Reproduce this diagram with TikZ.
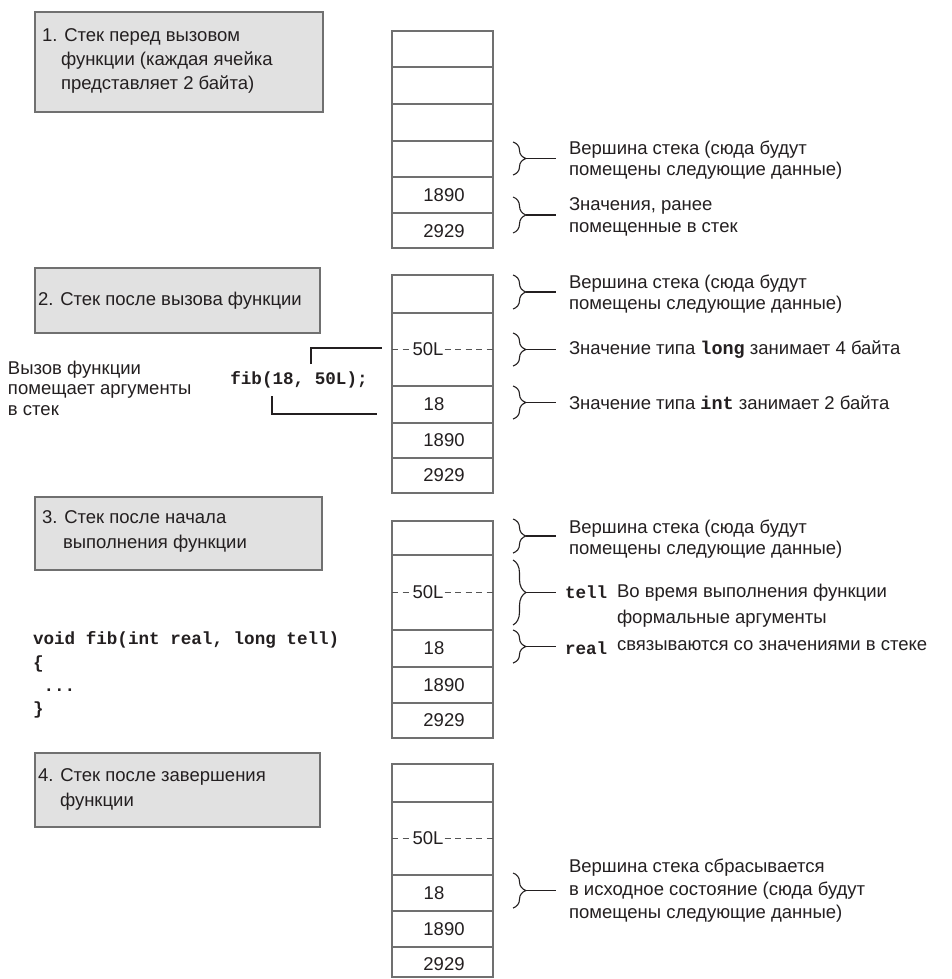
\documentclass[tikz,border=0pt]{standalone}
\usepackage{fontspec}
\setmainfont{Liberation Sans}
\setmonofont{Liberation Mono}
\usetikzlibrary{decorations.pathreplacing}
\definecolor{ink}{HTML}{231F20}
\definecolor{cellgray}{HTML}{707070}
\definecolor{dashgray}{HTML}{555555}
\definecolor{boxfill}{HTML}{E1E1E1}
\tikzset{
  every node/.style={inner sep=0pt, outer sep=0pt, text=ink, font=\fontsize{18.5}{21.5}\selectfont},
  cell/.style={rectangle, draw=cellgray, line width=2.4pt, minimum width=101pt, anchor=north west},
  graybox/.style={rectangle, draw=cellgray, fill=boxfill, line width=2pt, anchor=north west},
  lbl/.style={anchor=west, align=left},
  num/.style={},
  code/.style={font=\fontsize{17.6}{23.3}\selectfont\ttfamily\bfseries, anchor=west, align=left},
  brc/.style={draw=ink, line width=1.1pt, decorate, decoration={brace, amplitude=13pt, aspect=0.5}},
  lead/.style={draw=ink, line width=1.1pt},
  conn/.style={draw=ink, line width=1.1pt},
  dash50/.style={draw=dashgray, line width=1.5pt, dash pattern=on 6pt off 4.5pt},
  mask/.style={fill=white, inner xsep=0.3pt, inner ysep=1pt}
}
\begin{document}
\begin{tikzpicture}[x=1pt, y=-1pt]
\useasboundingbox[fill=white] (0,0) rectangle (951,979);

% ---------- Section 1 ----------
\node[graybox, minimum width=288pt, minimum height=100pt] (b1) at (35,12) {};
\node[lbl, font=\fontsize{18.5}{24}\selectfont] (t1) at (42,61) {1. Стек перед вызовом\\\hspace*{19pt}функции (каждая ячейка\\\hspace*{19pt}представляет 2 байта)};

\node[cell, minimum height=36pt] (s1c1) at (392,31) {};
\node[cell, minimum height=37pt] (s1c2) at (392,67) {};
\node[cell, minimum height=37pt] (s1c3) at (392,104) {};
\node[cell, minimum height=36pt] (s1c4) at (392,141) {};
\node[cell, minimum height=36pt] (s1c5) at (392,177) {};
\node[cell, minimum height=35pt] (s1c6) at (392,213) {};
\node[num] (n1a) at (444,195) {1890};
\node[num] (n1b) at (444,231) {2929};

\coordinate (ba1) at (513,142); \coordinate (ba2) at (513,175); \coordinate (bat) at (526,158.5);
\draw[brc] (ba1) -- (ba2);
\node[lbl] (ta) at (569,160) {Вершина стека (сюда будут\\помещены следующие данные)};
\draw[lead, shorten >=13pt] (bat) -- (ta.west |- bat);
\coordinate (bb1) at (513,197); \coordinate (bb2) at (513,233); \coordinate (bbt) at (526,215);
\draw[brc] (bb1) -- (bb2);
\node[lbl] (tb) at (569,217) {Значения, ранее\\помещенные в стек};
\draw[lead, shorten >=13pt] (bbt) -- (tb.west |- bbt);

% ---------- Section 2 ----------
\node[graybox, minimum width=285pt, minimum height=65pt] (b2) at (35,268) {};
\node[lbl] (t2) at (38,301) {2. Стек после вызова функции};

\node[cell, minimum height=38pt] (s2c1) at (392,275) {};
\node[cell, minimum height=73pt] (s2c2) at (392,313) {};
\node[cell, minimum height=37pt] (s2c3) at (392,386) {};
\node[cell, minimum height=35pt] (s2c4) at (392,423) {};
\node[cell, minimum height=35pt] (s2c5) at (392,458) {};
\draw[dash50] (s2c2.west) -- (s2c2.east);
\node[num, mask] (d2) at (428,349.5) {50L};
\node[num] (n2a) at (434,404.5) {18};
\node[num] (n2b) at (444,440.5) {1890};
\node[num] (n2c) at (444,475.5) {2929};

\coordinate (bc1) at (513,275); \coordinate (bc2) at (513,309); \coordinate (bct) at (526,292);
\draw[brc] (bc1) -- (bc2);
\node[lbl] (tc) at (569,294) {Вершина стека (сюда будут\\помещены следующие данные)};
\draw[lead, shorten >=13pt] (bct) -- (tc.west |- bct);
\coordinate (bd1) at (513,333); \coordinate (bd2) at (513,366); \coordinate (bdt) at (526,349.5);
\draw[brc] (bd1) -- (bd2);
\node[lbl] (td) at (569,350) {Значение типа {\ttfamily\bfseries long} занимает 4 байта};
\draw[lead, shorten >=13pt] (bdt) -- (td.west |- bdt);
\coordinate (be1) at (513,386); \coordinate (be2) at (513,419); \coordinate (bet) at (526,402.5);
\draw[brc] (be1) -- (be2);
\node[lbl] (te) at (569,403) {Значение типа {\ttfamily\bfseries int} занимает 2 байта};
\draw[lead, shorten >=13pt] (bet) -- (te.west |- bet);

\node[lbl, font=\fontsize{18.5}{20.5}\selectfont] (tl2) at (8,388) {Вызов функции\\помещает аргументы\\в стек};
\node[code, anchor=center] (f2) at (299,380) {fib(18, 50L);};
\coordinate (u0) at (311,364); \coordinate (u1) at (311,348); \coordinate (u2) at (382,348);
\draw[conn] (u0) -- (u1) -- (u2);
\coordinate (l0) at (272,396); \coordinate (l1) at (272,414); \coordinate (l2) at (377,414);
\draw[conn] (l0) -- (l1) -- (l2);

% ---------- Section 3 ----------
\node[graybox, minimum width=287pt, minimum height=73pt] (b3) at (35,497) {};
\node[lbl, font=\fontsize{18.5}{25}\selectfont] (t3) at (42,531) {3. Стек после начала\\\hspace*{21pt}выполнения функции};

\node[cell, minimum height=34pt] (s3c1) at (392,521) {};
\node[cell, minimum height=75pt] (s3c2) at (392,555) {};
\node[cell, minimum height=37pt] (s3c3) at (392,630) {};
\node[cell, minimum height=36pt] (s3c4) at (392,667) {};
\node[cell, minimum height=35pt] (s3c5) at (392,703) {};
\draw[dash50] (s3c2.west) -- (s3c2.east);
\node[num, mask] (d3) at (428,592.5) {50L};
\node[num] (n3a) at (434,648.5) {18};
\node[num] (n3b) at (444,685) {1890};
\node[num] (n3c) at (444,720.5) {2929};

\node[code] (code3) at (33,675) {void fib(int real, long tell)\\\{\\\hspace*{10.56pt}...\\\}};

\coordinate (bf1) at (513,519); \coordinate (bf2) at (513,553); \coordinate (bft) at (526,536);
\draw[brc] (bf1) -- (bf2);
\node[lbl] (tf) at (569,539) {Вершина стека (сюда будут\\помещены следующие данные)};
\draw[lead, shorten >=13pt] (bft) -- (tf.west |- bft);
\coordinate (bg1) at (513,560); \coordinate (bg2) at (513,625); \coordinate (bgt) at (526,592.5);
\draw[brc] (bg1) -- (bg2);
\node[code] (tell) at (565,592) {tell};
\draw[lead, shorten >=9pt] (bgt) -- (tell.west |- bgt);
\coordinate (bh1) at (513,630); \coordinate (bh2) at (513,663); \coordinate (bht) at (526,646.5);
\draw[brc] (bh1) -- (bh2);
\node[code] (real) at (565,648) {real};
\draw[lead, shorten >=9pt] (bht) -- (real.west |- bht);
\node[lbl, font=\fontsize{18.5}{26.5}\selectfont] (tg) at (617,617) {Во время выполнения функции\\формальные аргументы\\связываются со значениями в стеке};

% ---------- Section 4 ----------
\node[graybox, minimum width=285pt, minimum height=74pt] (b4) at (35,753) {};
\node[lbl, font=\fontsize{18.5}{25}\selectfont] (t4) at (38,789.5) {4. Стек после завершения\\\hspace*{22pt}функции};

\node[cell, minimum height=38pt] (s4c1) at (392,764) {};
\node[cell, minimum height=73pt] (s4c2) at (392,802) {};
\node[cell, minimum height=36pt] (s4c3) at (392,875) {};
\node[cell, minimum height=36pt] (s4c4) at (392,911) {};
\node[cell, minimum height=30pt] (s4c5) at (392,947) {};
\draw[dash50] (s4c2.west) -- (s4c2.east);
\node[num, mask] (d4) at (428,838.5) {50L};
\node[num] (n4a) at (434,893) {18};
\node[num] (n4b) at (444,929) {1890};
\node[num] (n4c) at (444,964) {2929};

\coordinate (bi1) at (513,873); \coordinate (bi2) at (513,908); \coordinate (bit) at (526,890.5);
\draw[brc] (bi1) -- (bi2);
\node[lbl, font=\fontsize{18.5}{23}\selectfont] (ti) at (569,891) {Вершина стека сбрасывается\\в исходное состояние (сюда будут\\помещены следующие данные)};
\draw[lead, shorten >=13pt] (bit) -- (ti.west |- bit);
\end{tikzpicture}
\end{document}
